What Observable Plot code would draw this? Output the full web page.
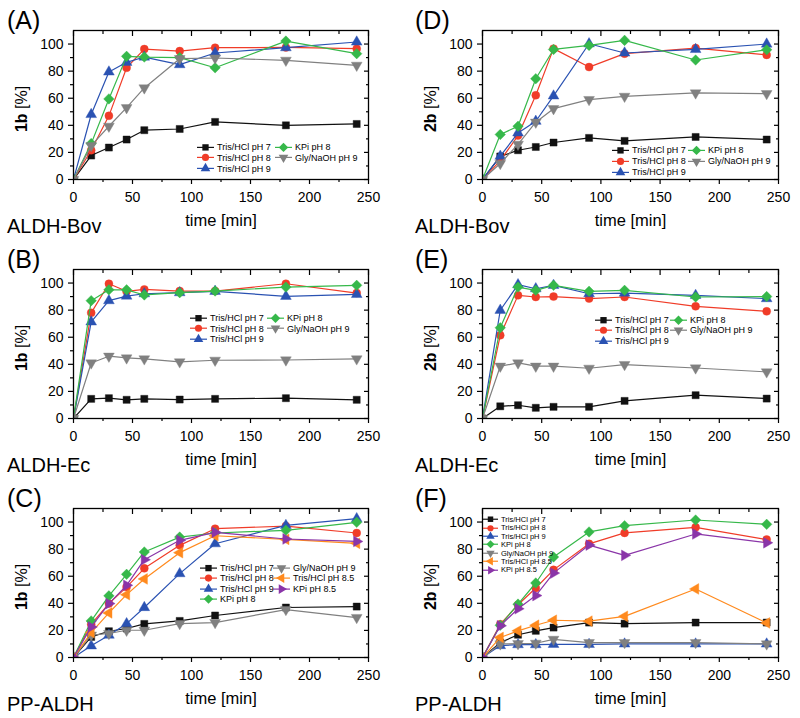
<!DOCTYPE html>
<html><head><meta charset="utf-8">
<script src="https://cdn.jsdelivr.net/npm/d3@7"></script>
<script src="https://cdn.jsdelivr.net/npm/@observablehq/plot@0.6"></script>
<style>
body{margin:0;background:#fff;font-family:"Liberation Sans",Arial,sans-serif;color:#000;}
#root{position:relative;width:800px;height:718px;overflow:hidden;background:#fff;}
.panel{position:absolute;width:400px;height:240px;}
.panel svg.plot{position:absolute;left:0;top:0;}
.tag{position:absolute;font-size:25px;line-height:1;white-space:nowrap;}
.enz{position:absolute;font-size:20px;line-height:1;white-space:nowrap;}
.ylab{position:absolute;font-size:16px;line-height:1;white-space:nowrap;transform:translate(-50%,-50%) rotate(-90deg);}
.legend{position:absolute;display:grid;grid-auto-flow:column;}
.legend .e{display:flex;align-items:center;white-space:nowrap;}
.legend svg{overflow:visible;}
</style></head>
<body><div id="root"></div>
<script>
// ---------- data ----------
const time = [0, 15, 30, 45, 60, 90, 120, 180, 240];
const xMajor = [0, 50, 100, 150, 200, 250];
const xMinor = [25, 75, 125, 175, 225];
const yMajor = [0, 20, 40, 60, 80, 100];
const yMinor = [10, 30, 50, 70, 90];

const seriesNames = ["Tris/HCl pH 7", "Tris/HCl pH 8", "Tris/HCl pH 9", "KPi pH 8", "Gly/NaOH pH 9", "Tris/HCl pH 8.5", "KPi pH 8.5"];
const seriesColors = ["#111111", "#f03c28", "#2a52b2", "#36b84a", "#808080", "#ff8a1e", "#8a35a8"];

// (A) ALDH-Bov, 1b
const A_pH7  = [0, 17.7, 23.6, 29.5, 36.4, 37.3, 42.5, 40.0, 41.0];
const A_pH8  = [0, 21.6, 47.0, 82.5, 96.3, 94.8, 97.3, 97.5, 96.6];
const A_pH9  = [0, 48.0, 79.4, 86.5, 90.4, 84.8, 93.4, 97.3, 101.5];
const A_KPi8 = [0, 26.5, 59.5, 90.9, 90.4, 90.0, 82.5, 102.2, 92.9];
const A_Gly9 = [0, 25.0, 39.3, 53.0, 67.6, 89.2, 89.7, 88.0, 84.3];
// (D) ALDH-Bov, 2b
const D_pH7  = [0, 17.0, 21.6, 24.0, 27.3, 30.7, 28.5, 31.4, 29.5];
const D_pH8  = [0, 14.0, 32.4, 62.2, 96.6, 83.0, 92.9, 97.0, 92.0];
const D_pH9  = [0, 17.2, 34.4, 43.0, 61.7, 100.2, 93.4, 96.0, 100.0];
const D_KPi8 = [0, 33.2, 39.3, 74.4, 96.0, 99.0, 102.7, 88.2, 95.8];
const D_Gly9 = [0, 11.8, 26.0, 42.3, 52.3, 59.0, 61.4, 63.9, 63.4];
// (B) ALDH-Ec, 1b
const B_pH7  = [0, 14.5, 15.0, 13.8, 14.5, 14.0, 14.5, 15.0, 13.8];
const B_pH8  = [0, 78.0, 99.5, 93.9, 95.3, 94.1, 94.1, 99.5, 92.6];
const B_pH9  = [0, 71.3, 87.0, 90.4, 92.1, 92.9, 93.9, 90.2, 91.6];
const B_KPi8 = [0, 87.0, 95.0, 95.0, 91.2, 92.9, 94.1, 97.0, 98.3];
const B_Gly9 = [0, 41.0, 46.0, 44.7, 44.0, 41.8, 43.0, 43.2, 44.0];
// (E) ALDH-Ec, 2b
const E_pH7  = [0, 9.0, 9.8, 7.9, 8.6, 8.6, 13.0, 17.2, 14.7];
const E_pH8  = [0, 61.4, 90.9, 89.7, 90.0, 88.5, 89.7, 82.8, 79.1];
const E_pH9  = [0, 79.9, 98.8, 95.8, 98.3, 92.1, 92.6, 90.9, 88.5];
const E_KPi8 = [0, 67.0, 97.0, 94.6, 98.3, 93.9, 94.6, 89.7, 90.0];
const E_Gly9 = [0, 38.6, 41.0, 38.6, 38.6, 37.1, 39.8, 37.3, 34.4];
// (C) PP-ALDH, 1b
const C_pH7   = [0, 15.2, 19.4, 21.4, 24.8, 27.0, 31.0, 36.9, 37.6];
const C_pH8   = [0, 24.6, 39.8, 52.0, 65.8, 82.8, 95.1, 97.0, 91.9];
const C_pH9   = [0, 8.6, 16.5, 25.0, 36.9, 61.9, 84.0, 97.5, 102.5];
const C_KPi8  = [0, 27.0, 45.5, 61.4, 77.9, 88.9, 91.9, 93.9, 99.8];
const C_Gly9  = [0, 16.5, 17.7, 20.1, 20.1, 25.0, 25.8, 35.4, 29.5];
const C_pH85  = [0, 18.4, 32.9, 46.4, 58.0, 77.4, 89.9, 87.2, 84.3];
const C_KPi85 = [0, 22.6, 39.8, 53.3, 72.2, 86.5, 92.4, 87.5, 85.7];
// (F) PP-ALDH, 2b
const F_pH7   = [0, 11.0, 16.8, 19.7, 22.1, 25.8, 25.0, 25.8, 25.8];
const F_pH8   = [0, 24.6, 38.9, 51.3, 64.7, 83.9, 92.0, 96.1, 87.1];
const F_pH9   = [0, 8.8, 9.5, 9.5, 9.7, 9.7, 10.0, 10.0, 10.0];
const F_KPi8  = [0, 23.8, 39.4, 55.0, 74.2, 92.7, 97.3, 101.5, 98.3];
const F_Gly9  = [0, 10.0, 10.2, 10.5, 13.4, 11.0, 11.0, 11.0, 10.0];
const F_pH85  = [0, 14.8, 19.7, 23.8, 27.5, 26.8, 30.4, 50.6, 25.5];
const F_KPi85 = [0, 23.4, 36.0, 45.7, 62.3, 83.0, 75.4, 91.2, 84.7];

// ---------- symbols ----------
const sq3 = Math.sqrt(3);
const triDown = {draw(c, s){const y = -Math.sqrt(s/(sq3*3)); c.moveTo(0,-2*y); c.lineTo(-sq3*y, y); c.lineTo(sq3*y, y); c.closePath();}};
const triLeft = {draw(c, s){const y = -Math.sqrt(s/(sq3*3)); c.moveTo(2*y,0); c.lineTo(-y,-sq3*y); c.lineTo(-y, sq3*y); c.closePath();}};
const triRight = {draw(c, s){const y = -Math.sqrt(s/(sq3*3)); c.moveTo(-2*y,0); c.lineTo(y,-sq3*y); c.lineTo(y, sq3*y); c.closePath();}};
const diamond = {draw(c, s){const h = Math.sqrt(s/2)*1.05; c.moveTo(0,-h); c.lineTo(h,0); c.lineTo(0,h); c.lineTo(-h,0); c.closePath();}};
const seriesSymbols = [d3.symbolSquare, d3.symbolCircle, d3.symbolTriangle, diamond, triDown, triLeft, triRight];
const plotSymbols = ["square", "circle", "triangle", diamond, triDown, triLeft, triRight];

// ---------- layout ----------
const panels = [
  {tag:"(A)", enzyme:"ALDH-Bov", ylab:"1b", left:0, top:0, series:[A_pH7,A_pH8,A_pH9,A_KPi8,A_Gly9],
   legend:{x:197, y:147, rowH:10.8, rows:3, colW:78, fs:9, sw:17, ms:40}},
  {tag:"(D)", enzyme:"ALDH-Bov", ylab:"2b", left:400, top:0, series:[D_pH7,D_pH8,D_pH9,D_KPi8,D_Gly9],
   legend:{x:212, y:150.5, rowH:10.8, rows:3, colW:76, fs:9, sw:17, ms:40}},
  {tag:"(B)", enzyme:"ALDH-Ec", ylab:"1b", left:0, top:239, series:[B_pH7,B_pH8,B_pH9,B_KPi8,B_Gly9],
   legend:{x:190, y:79.3, rowH:10.4, rows:3, colW:77, fs:9, sw:17, ms:40}},
  {tag:"(E)", enzyme:"ALDH-Ec", ylab:"2b", left:400, top:239, series:[E_pH7,E_pH8,E_pH9,E_KPi8,E_Gly9],
   legend:{x:195, y:81, rowH:10.4, rows:3, colW:75, fs:9, sw:17, ms:40}},
  {tag:"(C)", enzyme:"PP-ALDH", ylab:"1b", left:0, top:478, series:[C_pH7,C_pH8,C_pH9,C_KPi8,C_Gly9,C_pH85,C_KPi85],
   legend:{x:200, y:90.3, rowH:10.2, rows:4, colW:73, fs:9, sw:17, ms:40}},
  {tag:"(F)", enzyme:"PP-ALDH", ylab:"2b", left:400, top:478, series:[F_pH7,F_pH8,F_pH9,F_KPi8,F_Gly9,F_pH85,F_KPi85],
   legend:{x:83, y:41.3, rowH:8.45, rows:7, colW:80, fs:7.5, sw:15, ms:30}}
];

const root = d3.select("#root");
panels.forEach(p => {
  const isLeft = p.left === 0;
  const div = root.append("div").attr("class","panel").style("left", p.left+"px").style("top", p.top+"px");
  const marks = [];
  p.series.forEach((vals, si) => {
    const rows = time.map((t, j) => ({t, v: vals[j]}));
    marks.push(Plot.line(rows, {x:"t", y:"v", stroke: seriesColors[si], strokeWidth: 1.2, clip: true}));
    marks.push(Plot.dot(rows, {x:"t", y:"v", symbol: plotSymbols[si], fill: seriesColors[si], stroke: seriesColors[si], strokeWidth: 0.4, r: 4, clip: true}));
  });
  marks.push(
    Plot.axisX(xMajor, {tickSize:5, tickPadding:8, fontSize:14, strokeWidth:1.2, label:null}),
    Plot.axisX(xMinor, {tickSize:3, strokeWidth:1.2, fill:"none", label:null, tickFormat:() => ""}),
    Plot.axisX(xMajor, {anchor:"top", tickSize:5, dy:5, strokeWidth:1.2, fill:"none", label:null, tickFormat:() => ""}),
    Plot.axisX(xMinor, {anchor:"top", tickSize:3, dy:3, strokeWidth:1.2, fill:"none", label:null, tickFormat:() => ""}),
    Plot.axisY(yMajor, {tickSize:5, tickPadding:5, fontSize:14, strokeWidth:1.2, label:null}),
    Plot.axisY(yMinor, {tickSize:3, strokeWidth:1.2, fill:"none", label:null, tickFormat:() => ""}),
    Plot.axisY(yMajor, {anchor:"right", tickSize:5, dx:-5, strokeWidth:1.2, fill:"none", label:null, tickFormat:() => ""}),
    Plot.axisY(yMinor, {anchor:"right", tickSize:3, dx:-3, strokeWidth:1.2, fill:"none", label:null, tickFormat:() => ""}),
    Plot.axisX([], {label:"time [min]", labelAnchor:"center", labelArrow:"none", labelOffset:46, fontSize:16.5, tickSize:0}),
    Plot.frame({stroke:"#000", strokeWidth:1.3})
  );
  const svg = Plot.plot({
    width: 400, height: 240,
    marginTop: 30, marginBottom: 61,
    marginLeft: isLeft ? 73 : 82, marginRight: isLeft ? 32 : 22,
    x: {domain: [0, 250]},
    y: {domain: [0, 110]},
    style: {fontFamily: '"Liberation Sans", Arial, sans-serif', fontSize: "14px", color: "#000", background: "transparent", overflow: "visible"},
    marks
  });
  svg.classList.add("plot");
  div.node().appendChild(svg);

  div.append("div").attr("class","tag").style("left", (isLeft ? 7 : 15)+"px").style("top","8px").text(p.tag);
  div.append("div").attr("class","enz").style("left", (isLeft ? 7 : 15)+"px").style("top","216px").text(p.enzyme);
  const yl = div.append("div").attr("class","ylab").style("left", (isLeft ? 22 : 31)+"px").style("top","109px");
  yl.append("b").text(p.ylab);
  yl.append("span").text(" [%]");

  const L = p.legend;
  const lg = div.append("div").attr("class","legend")
    .style("left", L.x+"px").style("top", (L.y - L.rowH/2)+"px")
    .style("grid-template-rows", `repeat(${L.rows}, ${L.rowH}px)`)
    .style("grid-template-columns", `${L.colW}px auto`)
    .style("font-size", L.fs+"px");
  p.series.forEach((vals, si) => {
    const e = lg.append("div").attr("class","e");
    const s = e.append("svg").attr("width", L.sw).attr("height", L.rowH);
    s.append("line").attr("x1",0).attr("x2",L.sw).attr("y1",L.rowH/2).attr("y2",L.rowH/2)
      .attr("stroke", seriesColors[si]).attr("stroke-width",1.2);
    s.append("path").attr("transform",`translate(${L.sw/2},${L.rowH/2})`)
      .attr("d", d3.symbol(seriesSymbols[si], L.ms)()).attr("fill", seriesColors[si]);
    e.append("span").style("margin-left","3px").text(seriesNames[si]);
  });
});
</script>
</body></html>
